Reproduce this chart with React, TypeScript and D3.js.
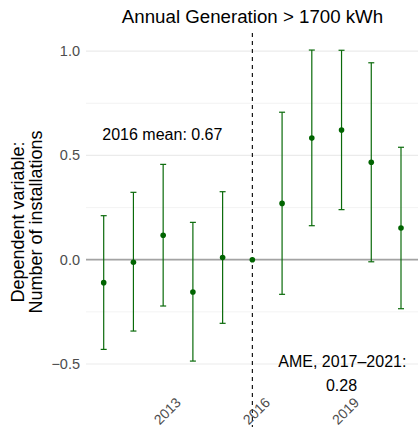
import React from "react";
import * as d3 from "d3";

const years = [2011, 2012, 2013, 2014, 2015, 2016, 2017, 2018, 2019, 2020, 2021];
const estimates = [-0.110, -0.012, 0.117, -0.155, 0.010, 0, 0.270, 0.583, 0.622, 0.467, 0.152];
const lowerCI = [-0.430, -0.342, -0.222, -0.486, -0.305, 0, -0.166, 0.163, 0.240, -0.010, -0.235];
const upperCI = [0.211, 0.323, 0.457, 0.179, 0.326, 0, 0.707, 1.005, 1.004, 0.944, 0.539];
const yTicks = [-0.5, 0.0, 0.5, 1.0];
const yMinor = [-0.25, 0.25, 0.75];
const xTicks = [2013, 2016, 2019];
const title = "Annual Generation > 1700 kWh";
const yTitle = ["Dependent variable:", "Number of installations"];
const meanLabel = "2016 mean: 0.67";
const ameLabel = ["AME, 2017\u20132021:", "0.28"];

const W = 418;
const H = 427;
const FONT = "'Liberation Sans', Arial, Helvetica, sans-serif";

export default function App() {
  const x = d3.scaleLinear().domain([2011, 2021]).range([103.7, 401]);
  const y = d3.scaleLinear().domain([-0.5, 1.0]).range([364.0, 51.1]);
  const panelLeft = 86;
  const panelRight = W;
  const refYear = 2016;
  const cap = 3;
  const green = "#0a6a0a";

  return (
    <svg
      width={W}
      height={H}
      style={{ position: "absolute", left: 0, top: 0, background: "#fff" }}
      fontFamily={FONT}
    >
      {yMinor.map((v) => (
        <line key={"mi" + v} x1={panelLeft} x2={panelRight} y1={y(v)} y2={y(v)} stroke="#f0f0f0" strokeWidth={0.8} />
      ))}
      {yTicks.map((v) => (
        <line key={"ma" + v} x1={panelLeft} x2={panelRight} y1={y(v)} y2={y(v)} stroke="#ebebeb" strokeWidth={1.1} />
      ))}
      {yTicks.map((v) => (
        <text key={"yt" + v} x={80} y={y(v)} textAnchor="end" dominantBaseline="central" fontSize={14.5} fill="#4d4d4d">
          {v < 0 ? "\u2212" + Math.abs(v).toFixed(1) : v.toFixed(1)}
        </text>
      ))}
      <line x1={panelLeft} x2={panelRight} y1={y(0)} y2={y(0)} stroke="#a3a3a3" strokeWidth={1.8} />
      <line x1={x(refYear)} x2={x(refYear)} y1={33} y2={H} stroke="#000" strokeWidth={1.1} strokeDasharray="4,4" />

      {years.map((yr, i) =>
        yr === refYear ? null : (
          <g key={"eb" + yr} stroke={green} strokeWidth={1.2} fill="none">
            <line x1={x(yr)} x2={x(yr)} y1={y(lowerCI[i])} y2={y(upperCI[i])} />
            <line x1={x(yr) - cap} x2={x(yr) + cap} y1={y(lowerCI[i])} y2={y(lowerCI[i])} />
            <line x1={x(yr) - cap} x2={x(yr) + cap} y1={y(upperCI[i])} y2={y(upperCI[i])} />
          </g>
        )
      )}
      {years.map((yr, i) => (
        <circle key={"pt" + yr} cx={x(yr)} cy={y(estimates[i])} r={2.8} fill="#006400" />
      ))}

      {xTicks.map((t) => (
        <text
          key={"xt" + t}
          transform={`translate(${x(t) + 4},${411}) rotate(-45)`}
          textAnchor="middle"
          dominantBaseline="central"
          fontSize={14}
          fill="#4d4d4d"
        >
          {t}
        </text>
      ))}

      <text x={252.5} y={23} textAnchor="middle" fontSize={18.7} fill="#000">
        {title}
      </text>

      <text transform="translate(24,222) rotate(-90)" textAnchor="middle" fontSize={18} fill="#000">
        {yTitle[0]}
      </text>
      <text transform="translate(42,222) rotate(-90)" textAnchor="middle" fontSize={18} fill="#000">
        {yTitle[1]}
      </text>

      <text x={x(2013) - 0.8} y={y(0.6)} textAnchor="middle" dominantBaseline="central" fontSize={16} fill="#000">
        {meanLabel}
      </text>
      <text x={x(2019) + 0.8} y={y(-0.545) - 12} textAnchor="middle" dominantBaseline="central" fontSize={16} fill="#000">
        {ameLabel[0]}
      </text>
      <text x={x(2019)} y={y(-0.545) + 12} textAnchor="middle" dominantBaseline="central" fontSize={16} fill="#000">
        {ameLabel[1]}
      </text>
    </svg>
  );
}
